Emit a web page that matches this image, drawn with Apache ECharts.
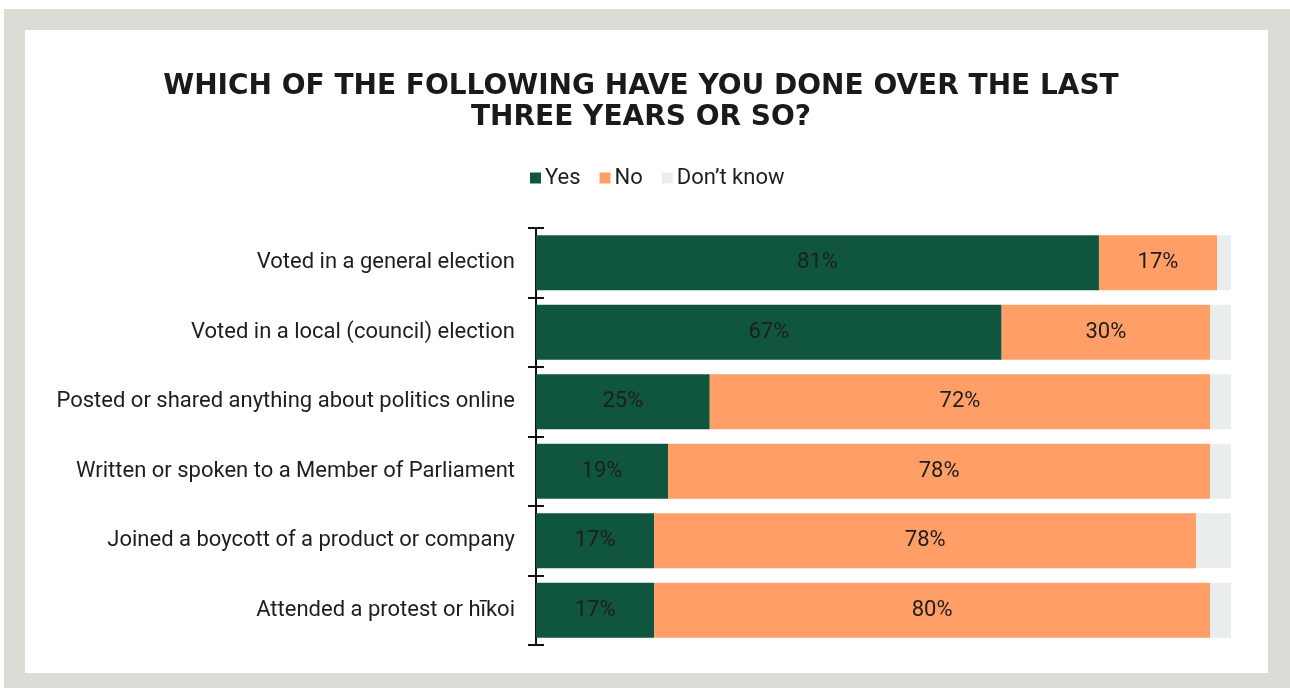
<!DOCTYPE html>
<html>
<head>
<meta charset="utf-8">
<style>
  html, body { margin: 0; padding: 0; background: #ffffff; }
  #chart { width: 1290px; height: 688px; }
</style>
<script src="https://cdn.jsdelivr.net/npm/echarts@6/dist/echarts.min.js"></script>
</head>
<body>
<div id="chart"></div>
<script>
// Survey activities (top to bottom)
const categories = [
  'Voted in a general election',
  'Voted in a local (council) election',
  'Posted or shared anything about politics online',
  'Written or spoken to a Member of Parliament',
  'Joined a boycott of a product or company',
  'Attended a protest or h\u012Bkoi'
];
// Share of respondents, percent
const yesValues = [81, 67, 25, 19, 17, 17];
const noValues = [17, 30, 72, 78, 78, 80];
const dontKnowValues = [2, 3, 3, 3, 5, 3];

const seriesNames = ['Yes', 'No', 'Don\u2019t know'];
const seriesColors = ['#10563f', '#ff9e66', '#e9edec'];

const chart = echarts.init(document.getElementById('chart'), null, { renderer: 'canvas' });

const labelFont = 'Roboto, "Noto Sans", sans-serif';
const textColor = '#1e1e1e';
const fontSize = 22;

function valueLabel(show) {
  return {
    show: show,
    position: 'inside',
    formatter: '{c}%',
    color: textColor,
    fontFamily: labelFont,
    fontSize: fontSize,
    padding: [5, 0, 0, 0]
  };
}

const option = {
  backgroundColor: 'transparent',
  animation: false,
  graphic: [
    // grey frame with white panel
    { type: 'rect', z: -20, shape: { x: 4, y: 9, width: 1290, height: 688 }, style: { fill: '#dcdcd7' } },
    { type: 'rect', z: -19, shape: { x: 25, y: 30, width: 1243, height: 643 }, style: { fill: '#ffffff' } }
  ],
  title: {
    text: 'WHICH OF THE FOLLOWING HAVE YOU DONE OVER THE LAST\nTHREE YEARS OR SO?',
    left: 636,
    top: 66,
    textAlign: 'center',
    textStyle: {
      fontFamily: '"DejaVu Sans", sans-serif',
      fontWeight: 'bold',
      fontSize: 28,
      lineHeight: 31,
      color: '#1a1a1a'
    }
  },
  legend: {
    left: 525,
    top: 162,
    icon: 'rect',
    itemWidth: 11,
    itemHeight: 11,
    itemGap: 19,
    data: seriesNames,
    textStyle: {
      fontFamily: labelFont,
      fontSize: fontSize,
      color: textColor,
      padding: [0, 0, 0, -1]
    }
  },
  grid: {
    left: 536,
    right: 59,
    top: 228,
    bottom: 43,
    containLabel: false
  },
  xAxis: {
    type: 'value',
    min: 0,
    max: 100,
    show: false
  },
  yAxis: [
    {
      type: 'category',
      data: categories,
      inverse: true,
      axisLine: { show: true, lineStyle: { color: '#111', width: 2 } },
      axisTick: { show: true, length: 8, lineStyle: { color: '#111', width: 2 } },
      axisLabel: {
        margin: 21,
        fontFamily: labelFont,
        fontSize: fontSize,
        color: textColor,
        padding: [5, 0, 0, 0]
      },
      splitLine: { show: false }
    },
    {
      type: 'category',
      data: categories,
      inverse: true,
      position: 'left',
      axisLine: { show: false },
      axisTick: { show: true, inside: true, length: 8, lineStyle: { color: '#111', width: 2 } },
      axisLabel: { show: false },
      splitLine: { show: false }
    }
  ],
  series: [
    {
      name: seriesNames[0],
      type: 'bar',
      stack: 'total',
      barWidth: 55,
      data: yesValues,
      itemStyle: { color: seriesColors[0] },
      label: valueLabel(true)
    },
    {
      name: seriesNames[1],
      type: 'bar',
      stack: 'total',
      barWidth: 55,
      data: noValues,
      itemStyle: { color: seriesColors[1] },
      label: valueLabel(true)
    },
    {
      name: seriesNames[2],
      type: 'bar',
      stack: 'total',
      barWidth: 55,
      data: dontKnowValues,
      itemStyle: { color: seriesColors[2] },
      label: valueLabel(false)
    }
  ]
};

chart.setOption(option);
</script>
</body>
</html>
